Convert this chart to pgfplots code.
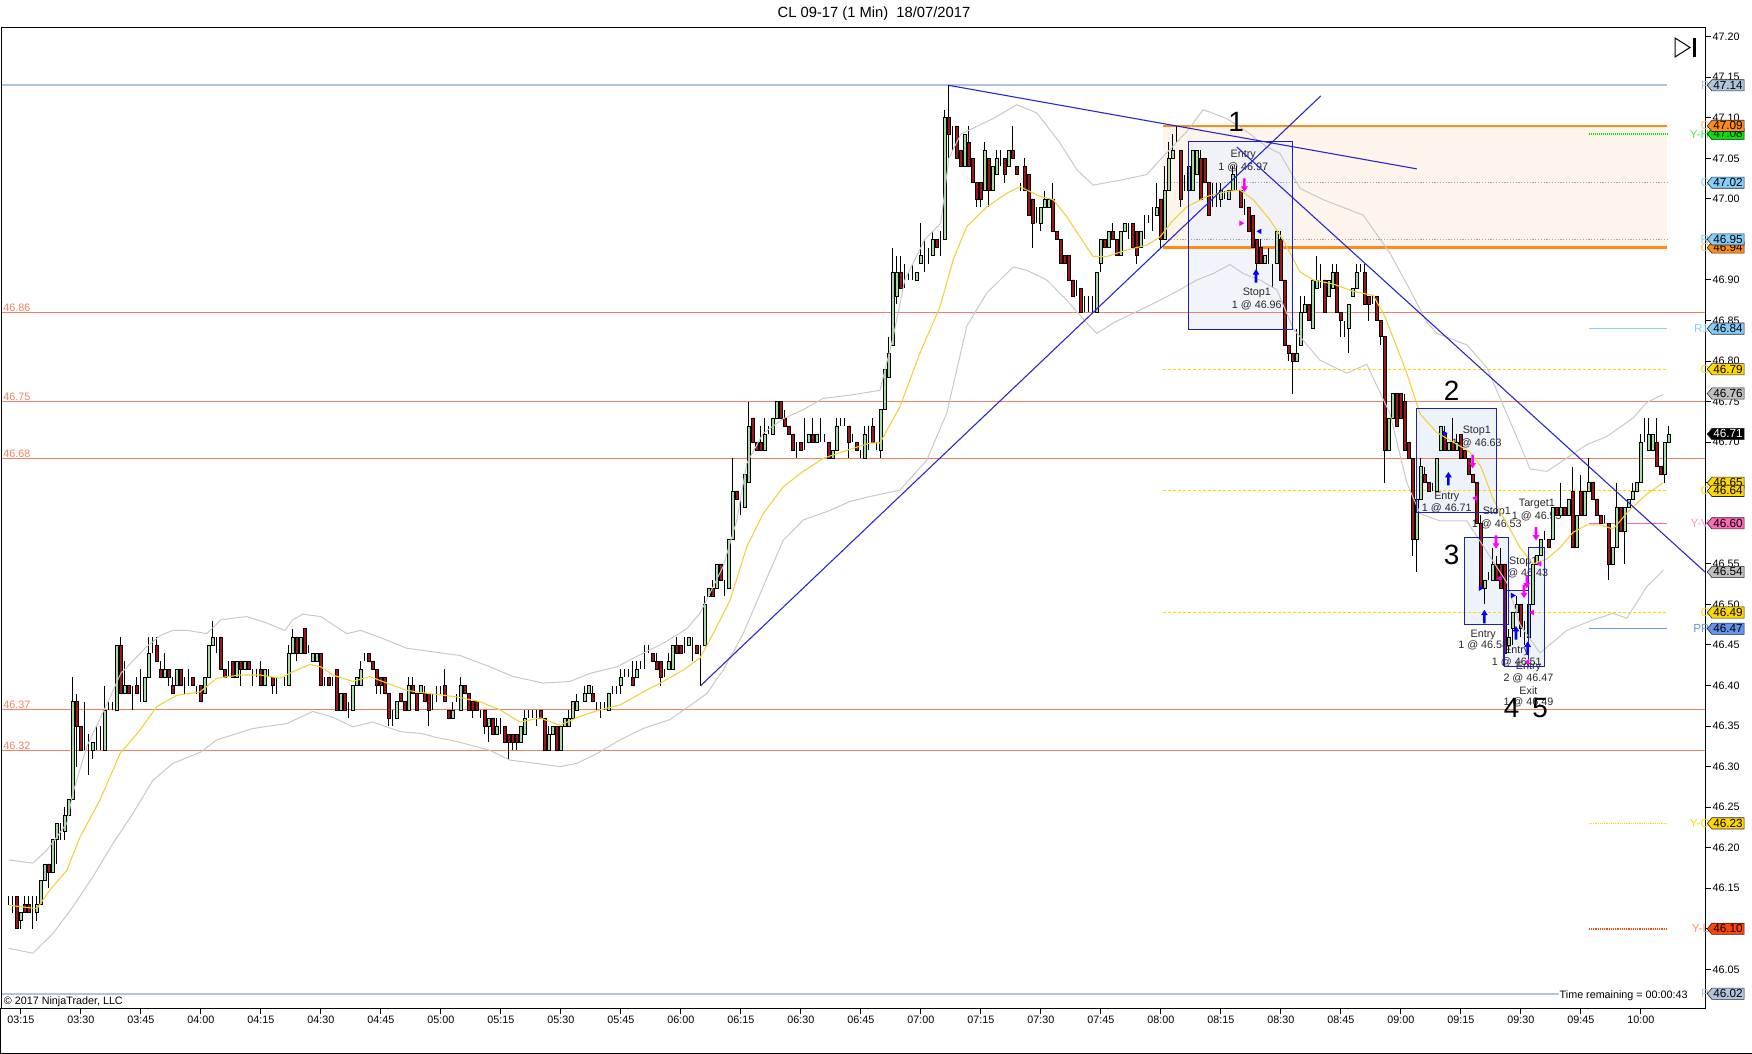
\documentclass[border=0pt]{standalone}
\usepackage{fontspec}
\setmainfont{Liberation Sans}
\usepackage{pgfplots}
\pgfplotsset{compat=1.18}
\usepackage{pgfplotstable}
\usetikzlibrary{shapes.symbols}

\definecolor{upc}{RGB}{165,218,160}
\definecolor{dnc}{RGB}{160,22,22}
\definecolor{bbc}{RGB}{200,200,200}
\definecolor{emac}{RGB}{240,210,60}
\definecolor{coral}{RGB}{240,128,100}
\definecolor{orng}{RGB}{255,140,20}
\definecolor{lsb}{RGB}{176,196,222}
\definecolor{lskb}{RGB}{135,206,250}
\definecolor{gold}{RGB}{255,215,0}
\definecolor{trend}{RGB}{40,40,210}
\definecolor{boxb}{RGB}{30,30,190}
\definecolor{boxf}{RGB}{238,242,250}
\definecolor{beige}{RGB}{253,245,236}
\definecolor{mag}{RGB}{255,0,255}
\definecolor{blu}{RGB}{0,0,255}
\definecolor{hotpink}{RGB}{255,105,180}
\definecolor{cornfl}{RGB}{100,149,237}
\definecolor{ored}{RGB}{255,69,0}
\definecolor{limec}{RGB}{0,230,0}
\definecolor{txt}{RGB}{40,40,40}
\definecolor{tagg}{RGB}{192,192,192}

\newcommand\tf{\fontsize{5.4}{6}\selectfont}
\newcommand\tagf{\fontsize{5.9}{6.2}\selectfont}

\pgfdeclareplotmark{uparr}{%
  \pgfpathmoveto{\pgfqpoint{0bp}{3.35bp}}%
  \pgfpathlineto{\pgfqpoint{1.7bp}{0.7bp}}%
  \pgfpathlineto{\pgfqpoint{0.65bp}{0.7bp}}%
  \pgfpathlineto{\pgfqpoint{0.65bp}{-3.35bp}}%
  \pgfpathlineto{\pgfqpoint{-0.65bp}{-3.35bp}}%
  \pgfpathlineto{\pgfqpoint{-0.65bp}{0.7bp}}%
  \pgfpathlineto{\pgfqpoint{-1.7bp}{0.7bp}}%
  \pgfpathclose\pgfusepathqfill}
\pgfdeclareplotmark{dnarr}{%
  \pgfpathmoveto{\pgfqpoint{0bp}{-3.35bp}}%
  \pgfpathlineto{\pgfqpoint{1.7bp}{-0.7bp}}%
  \pgfpathlineto{\pgfqpoint{0.65bp}{-0.7bp}}%
  \pgfpathlineto{\pgfqpoint{0.65bp}{3.35bp}}%
  \pgfpathlineto{\pgfqpoint{-0.65bp}{3.35bp}}%
  \pgfpathlineto{\pgfqpoint{-0.65bp}{-0.7bp}}%
  \pgfpathlineto{\pgfqpoint{-1.7bp}{-0.7bp}}%
  \pgfpathclose\pgfusepathqfill}
\pgfdeclareplotmark{tril}{%
  \pgfpathmoveto{\pgfqpoint{-1.3bp}{0bp}}%
  \pgfpathlineto{\pgfqpoint{1.1bp}{1.4bp}}%
  \pgfpathlineto{\pgfqpoint{1.1bp}{-1.4bp}}%
  \pgfpathclose\pgfusepathqfill}
\pgfdeclareplotmark{trir}{%
  \pgfpathmoveto{\pgfqpoint{1.3bp}{0bp}}%
  \pgfpathlineto{\pgfqpoint{-1.1bp}{1.4bp}}%
  \pgfpathlineto{\pgfqpoint{-1.1bp}{-1.4bp}}%
  \pgfpathclose\pgfusepathqfill}

\pgfplotsset{geom/.style={at={(0.5bp,23bp)}, anchor=south west, width=852bp, height=490bp,
  scale only axis, xmin=-4.95, xmax=421.05, ymin=46.0024, ymax=47.2107, enlargelimits=false}}

\pgfplotstableread{
m O H L C
-3 46.13 46.14 46.13 46.13
-2 46.13 46.14 46.12 46.13
-1 46.14 46.14 46.10 46.10
0 46.11 46.12 46.10 46.12
1 46.13 46.14 46.12 46.12
2 46.13 46.14 46.12 46.12
3 46.12 46.14 46.10 46.12
4 46.12 46.14 46.11 46.13
5 46.13 46.16 46.13 46.16
6 46.16 46.18 46.16 46.18
7 46.18 46.18 46.15 46.17
8 46.17 46.21 46.17 46.21
9 46.21 46.23 46.18 46.23
10 46.22 46.23 46.21 46.22
11 46.22 46.25 46.21 46.24
12 46.24 46.26 46.24 46.26
13 46.26 46.41 46.26 46.38
14 46.38 46.39 46.30 46.35
15 46.35 46.35 46.32 46.32
16 46.33 46.38 46.32 46.33
17 46.32 46.34 46.29 46.32
18 46.32 46.33 46.31 46.33
19 46.33 46.35 46.32 46.33
20 46.33 46.35 46.32 46.33
21 46.32 46.40 46.32 46.37
22 46.37 46.38 46.37 46.37
23 46.37 46.38 46.37 46.37
24 46.37 46.45 46.37 46.45
25 46.45 46.46 46.39 46.39
26 46.39 46.43 46.39 46.40
27 46.40 46.40 46.39 46.39
28 46.39 46.40 46.37 46.39
29 46.40 46.41 46.39 46.39
30 46.39 46.42 46.38 46.39
31 46.38 46.41 46.38 46.41
32 46.41 46.46 46.41 46.44
33 46.44 46.46 46.44 46.44
34 46.45 46.46 46.43 46.43
35 46.42 46.43 46.41 46.41
36 46.41 46.44 46.41 46.42
37 46.42 46.42 46.40 46.41
38 46.40 46.41 46.39 46.39
39 46.40 46.42 46.40 46.42
40 46.42 46.42 46.40 46.40
41 46.40 46.41 46.39 46.40
42 46.40 46.42 46.40 46.40
43 46.41 46.41 46.40 46.40
44 46.40 46.40 46.39 46.40
45 46.40 46.40 46.38 46.38
46 46.39 46.41 46.39 46.41
47 46.41 46.45 46.41 46.45
48 46.45 46.48 46.45 46.46
49 46.45 46.46 46.44 46.45
50 46.46 46.46 46.42 46.42
51 46.42 46.42 46.41 46.41
52 46.42 46.43 46.41 46.42
53 46.43 46.43 46.41 46.41
54 46.41 46.43 46.41 46.43
55 46.43 46.43 46.40 46.42
56 46.42 46.43 46.42 46.43
57 46.43 46.43 46.42 46.42
58 46.41 46.42 46.40 46.41
59 46.41 46.42 46.41 46.41
60 46.42 46.43 46.40 46.40
61 46.40 46.42 46.40 46.42
62 46.41 46.42 46.41 46.41
63 46.41 46.41 46.39 46.40
64 46.40 46.41 46.39 46.40
65 46.40 46.40 46.40 46.40
66 46.40 46.41 46.40 46.40
67 46.40 46.45 46.40 46.44
68 46.44 46.47 46.44 46.46
69 46.46 46.46 46.43 46.44
70 46.44 46.46 46.44 46.46
71 46.47 46.47 46.44 46.44
72 46.44 46.45 46.44 46.44
73 46.43 46.44 46.43 46.44
74 46.43 46.44 46.43 46.44
75 46.44 46.44 46.40 46.40
76 46.41 46.41 46.40 46.41
77 46.41 46.41 46.40 46.40
78 46.41 46.41 46.40 46.41
79 46.42 46.42 46.37 46.37
80 46.37 46.39 46.37 46.39
81 46.39 46.39 46.37 46.37
82 46.37 46.38 46.36 46.37
83 46.37 46.40 46.37 46.40
84 46.40 46.41 46.40 46.41
85 46.40 46.43 46.40 46.42
86 46.43 46.44 46.43 46.43
87 46.44 46.44 46.43 46.43
88 46.43 46.43 46.42 46.42
89 46.42 46.42 46.39 46.40
90 46.41 46.41 46.39 46.40
91 46.41 46.41 46.39 46.39
92 46.39 46.39 46.35 46.36
93 46.36 46.37 46.35 46.36
94 46.36 46.38 46.36 46.38
95 46.39 46.39 46.38 46.38
96 46.38 46.38 46.37 46.37
97 46.37 46.41 46.37 46.40
98 46.40 46.41 46.39 46.39
99 46.39 46.39 46.37 46.37
100 46.39 46.40 46.39 46.40
101 46.39 46.40 46.38 46.38
102 46.39 46.39 46.35 46.37
103 46.38 46.39 46.37 46.38
104 46.39 46.40 46.38 46.39
105 46.39 46.40 46.39 46.39
106 46.40 46.42 46.38 46.38
107 46.37 46.37 46.36 46.36
108 46.36 46.38 46.36 46.37
109 46.38 46.39 46.38 46.38
110 46.37 46.41 46.37 46.40
111 46.40 46.40 46.39 46.39
112 46.39 46.39 46.37 46.37
113 46.38 46.38 46.36 46.37
114 46.38 46.38 46.37 46.37
115 46.37 46.37 46.36 46.37
116 46.37 46.37 46.34 46.35
117 46.35 46.36 46.33 46.36
118 46.36 46.36 46.34 46.34
119 46.34 46.36 46.34 46.35
120 46.35 46.36 46.34 46.35
121 46.35 46.35 46.33 46.33
122 46.34 46.34 46.31 46.33
123 46.34 46.34 46.32 46.33
124 46.34 46.34 46.32 46.33
125 46.33 46.35 46.33 46.35
126 46.34 46.37 46.34 46.36
127 46.36 46.37 46.36 46.36
128 46.36 46.37 46.36 46.36
129 46.36 46.37 46.35 46.36
130 46.37 46.37 46.36 46.36
131 46.36 46.36 46.32 46.32
132 46.32 46.35 46.32 46.34
133 46.34 46.35 46.34 46.35
134 46.35 46.35 46.32 46.32
135 46.32 46.35 46.32 46.35
136 46.35 46.36 46.35 46.36
137 46.35 46.37 46.35 46.36
138 46.36 46.38 46.36 46.38
139 46.37 46.39 46.37 46.38
140 46.38 46.38 46.38 46.38
141 46.38 46.40 46.38 46.39
142 46.39 46.40 46.39 46.40
143 46.39 46.40 46.38 46.38
144 46.38 46.38 46.37 46.38
145 46.37 46.38 46.36 46.37
146 46.38 46.38 46.37 46.38
147 46.37 46.39 46.37 46.39
148 46.39 46.40 46.39 46.39
149 46.39 46.40 46.39 46.39
150 46.40 46.42 46.39 46.41
151 46.41 46.42 46.41 46.41
152 46.41 46.42 46.41 46.41
153 46.41 46.43 46.40 46.40
154 46.41 46.43 46.41 46.42
155 46.42 46.43 46.42 46.42
156 46.44 46.45 46.42 46.44
157 46.44 46.45 46.44 46.44
158 46.44 46.44 46.43 46.43
159 46.43 46.44 46.42 46.42
160 46.43 46.43 46.40 46.41
161 46.41 46.42 46.41 46.41
162 46.42 46.44 46.42 46.43
163 46.42 46.45 46.42 46.45
164 46.45 46.46 46.44 46.44
165 46.45 46.45 46.44 46.44
166 46.45 46.46 46.44 46.45
167 46.45 46.46 46.45 46.46
168 46.45 46.46 46.43 46.45
169 46.45 46.45 46.44 46.44
170 46.44 46.45 46.40 46.44
171 46.45 46.51 46.45 46.50
172 46.51 46.52 46.51 46.52
173 46.52 46.53 46.51 46.51
174 46.52 46.55 46.52 46.55
175 46.55 46.55 46.53 46.53
176 46.53 46.53 46.51 46.53
177 46.52 46.58 46.52 46.58
178 46.58 46.68 46.58 46.64
179 46.64 46.64 46.63 46.63
180 46.62 46.63 46.61 46.62
181 46.62 46.66 46.62 46.66
182 46.65 46.75 46.65 46.72
183 46.73 46.73 46.70 46.70
184 46.70 46.70 46.69 46.69
185 46.70 46.72 46.69 46.69
186 46.69 46.73 46.69 46.71
187 46.71 46.72 46.71 46.71
188 46.71 46.73 46.71 46.73
189 46.73 46.75 46.73 46.75
190 46.75 46.75 46.73 46.73
191 46.73 46.74 46.72 46.72
192 46.72 46.72 46.71 46.71
193 46.71 46.71 46.69 46.69
194 46.69 46.70 46.68 46.69
195 46.70 46.70 46.69 46.69
196 46.70 46.73 46.69 46.70
197 46.70 46.71 46.70 46.71
198 46.71 46.73 46.70 46.70
199 46.70 46.71 46.70 46.71
200 46.71 46.73 46.70 46.71
201 46.70 46.71 46.70 46.70
202 46.70 46.70 46.68 46.68
203 46.68 46.69 46.68 46.69
204 46.69 46.73 46.69 46.72
205 46.72 46.73 46.72 46.72
206 46.72 46.73 46.72 46.72
207 46.72 46.72 46.68 46.70
208 46.70 46.71 46.70 46.70
209 46.70 46.70 46.69 46.69
210 46.69 46.69 46.68 46.69
211 46.68 46.72 46.68 46.71
212 46.70 46.72 46.69 46.70
213 46.72 46.73 46.70 46.70
214 46.70 46.70 46.69 46.70
215 46.69 46.74 46.68 46.74
216 46.74 46.79 46.74 46.79
217 46.78 46.83 46.78 46.81
218 46.82 46.94 46.82 46.91
219 46.88 46.93 46.87 46.91
220 46.91 46.93 46.89 46.89
221 46.90 46.92 46.89 46.90
222 46.90 46.91 46.90 46.90
223 46.90 46.92 46.90 46.90
224 46.90 46.91 46.90 46.91
225 46.92 46.97 46.92 46.93
226 46.92 46.95 46.91 46.92
227 46.93 46.94 46.92 46.93
228 46.93 46.96 46.93 46.95
229 46.95 46.95 46.94 46.94
230 46.94 46.96 46.93 46.94
231 46.95 47.11 46.95 47.10
232 47.10 47.14 47.05 47.08
233 47.07 47.09 47.06 47.07
234 47.09 47.09 47.05 47.05
235 47.06 47.06 47.04 47.04
236 47.04 47.08 47.04 47.08
237 47.07 47.09 47.04 47.04
238 47.05 47.05 47.02 47.02
239 47.02 47.02 46.99 47.00
240 47.02 47.02 46.99 47.00
241 47.01 47.07 47.01 47.06
242 47.05 47.05 46.99 47.01
243 47.01 47.04 47.01 47.04
244 47.03 47.06 47.03 47.05
245 47.05 47.06 47.04 47.05
246 47.05 47.05 47.02 47.03
247 47.04 47.06 47.04 47.06
248 47.06 47.09 47.05 47.05
249 47.04 47.04 47.03 47.03
250 47.02 47.02 47.01 47.02
251 47.04 47.05 47.01 47.01
252 47.03 47.03 46.98 46.98
253 47.00 47.00 46.94 46.97
254 46.98 46.99 46.97 46.98
255 46.97 46.99 46.96 46.99
256 46.99 47.01 46.99 47.00
257 46.99 47.00 46.99 47.00
258 47.00 47.02 46.96 46.96
259 46.96 46.96 46.95 46.95
260 46.95 46.95 46.92 46.92
261 46.93 46.93 46.92 46.92
262 46.93 46.93 46.90 46.90
263 46.90 46.90 46.88 46.88
264 46.89 46.90 46.88 46.89
265 46.89 46.89 46.86 46.86
266 46.87 46.88 46.86 46.87
267 46.86 46.88 46.86 46.86
268 46.86 46.88 46.86 46.86
269 46.86 46.91 46.86 46.91
270 46.92 46.95 46.91 46.95
271 46.95 46.95 46.94 46.94
272 46.94 46.96 46.94 46.96
273 46.96 46.97 46.95 46.95
274 46.95 46.95 46.93 46.93
275 46.93 46.96 46.93 46.96
276 46.96 46.97 46.96 46.97
277 46.96 46.97 46.95 46.96
278 46.97 46.97 46.94 46.94
279 46.96 46.96 46.92 46.93
280 46.94 46.96 46.94 46.96
281 46.97 46.98 46.95 46.97
282 46.97 46.98 46.97 46.97
283 46.97 46.99 46.96 46.97
284 46.98 47.02 46.98 46.99
285 47.00 47.00 46.94 46.95
286 46.95 47.04 46.95 47.01
287 47.01 47.07 47.01 47.05
288 47.05 47.08 47.05 47.06
289 47.07 47.09 47.07 47.07
290 47.06 47.06 46.99 47.00
291 47.02 47.03 47.01 47.02
292 47.01 47.05 47.01 47.04
293 47.01 47.06 47.01 47.06
294 47.03 47.06 47.03 47.06
295 47.05 47.06 47.00 47.00
296 47.05 47.05 47.02 47.02
297 47.02 47.02 46.98 46.98
298 47.00 47.02 46.99 47.00
299 47.01 47.02 46.99 47.01
300 47.00 47.02 46.99 47.01
301 47.00 47.01 47.00 47.00
302 47.00 47.01 47.00 47.01
303 47.01 47.04 47.01 47.03
304 47.03 47.04 47.01 47.03
305 47.01 47.01 46.99 46.99
306 46.99 47.00 46.98 46.99
307 46.99 46.99 46.96 46.96
308 46.98 46.98 46.94 46.94
309 46.95 46.95 46.91 46.92
310 46.94 46.95 46.92 46.92
311 46.92 46.93 46.92 46.93
312 46.93 46.94 46.92 46.93
313 46.92 46.92 46.89 46.92
314 46.92 46.96 46.92 46.96
315 46.95 46.96 46.90 46.90
316 46.90 46.90 46.82 46.82
317 46.82 46.82 46.80 46.81
318 46.81 46.81 46.76 46.80
319 46.80 46.84 46.80 46.81
320 46.82 46.88 46.82 46.86
321 46.86 46.88 46.86 46.87
322 46.87 46.87 46.85 46.85
323 46.84 46.90 46.84 46.90
324 46.89 46.93 46.89 46.90
325 46.90 46.92 46.89 46.90
326 46.90 46.90 46.86 46.86
327 46.88 46.90 46.88 46.90
328 46.89 46.92 46.89 46.91
329 46.91 46.92 46.86 46.86
330 46.86 46.86 46.83 46.85
331 46.84 46.85 46.83 46.84
332 46.84 46.87 46.81 46.87
333 46.88 46.89 46.88 46.89
334 46.89 46.92 46.89 46.91
335 46.91 46.92 46.91 46.91
336 46.91 46.92 46.87 46.87
337 46.88 46.88 46.85 46.87
338 46.88 46.88 46.87 46.88
339 46.88 46.88 46.85 46.85
340 46.85 46.85 46.82 46.83
341 46.83 46.83 46.65 46.69
342 46.69 46.73 46.69 46.73
343 46.73 46.76 46.73 46.76
344 46.76 46.76 46.72 46.72
345 46.76 46.76 46.73 46.73
346 46.75 46.76 46.69 46.69
347 46.70 46.70 46.68 46.68
348 46.68 46.68 46.56 46.58
349 46.58 46.63 46.54 46.63
350 46.63 46.68 46.63 46.67
351 46.66 46.67 46.65 46.65
352 46.65 46.65 46.64 46.64
353 46.64 46.65 46.64 46.64
354 46.64 46.68 46.64 46.68
355 46.69 46.72 46.69 46.72
356 46.71 46.72 46.69 46.69
357 46.69 46.70 46.69 46.70
358 46.70 46.73 46.69 46.69
359 46.69 46.71 46.69 46.70
360 46.71 46.71 46.68 46.68
361 46.69 46.69 46.68 46.68
362 46.68 46.68 46.66 46.66
363 46.66 46.66 46.65 46.65
364 46.65 46.65 46.60 46.60
365 46.60 46.61 46.52 46.52
366 46.52 46.53 46.50 46.53
367 46.53 46.54 46.53 46.53
368 46.53 46.57 46.53 46.55
369 46.55 46.56 46.53 46.53
370 46.55 46.57 46.52 46.52
371 46.55 46.55 46.44 46.44
372 46.45 46.47 46.44 46.46
373 46.47 46.49 46.45 46.49
374 46.49 46.51 46.49 46.50
375 46.50 46.50 46.46 46.47
376 46.48 46.48 46.45 46.48
377 46.46 46.50 46.45 46.50
378 46.50 46.55 46.50 46.55
379 46.55 46.56 46.55 46.56
380 46.56 46.58 46.56 46.58
381 46.58 46.59 46.58 46.58
382 46.58 46.58 46.57 46.57
383 46.58 46.62 46.58 46.62
384 46.62 46.62 46.61 46.61
385 46.61 46.65 46.61 46.62
386 46.62 46.62 46.61 46.61
387 46.61 46.63 46.61 46.63
388 46.64 46.67 46.57 46.57
389 46.57 46.61 46.57 46.61
390 46.64 46.66 46.61 46.61
391 46.61 46.64 46.61 46.64
392 46.64 46.68 46.64 46.65
393 46.65 46.65 46.63 46.63
394 46.63 46.63 46.61 46.61
395 46.61 46.61 46.60 46.60
396 46.60 46.61 46.60 46.60
397 46.60 46.60 46.53 46.55
398 46.55 46.57 46.55 46.57
399 46.57 46.65 46.57 46.62
400 46.62 46.62 46.59 46.59
401 46.59 46.62 46.55 46.62
402 46.62 46.63 46.62 46.63
403 46.63 46.65 46.63 46.64
404 46.64 46.65 46.64 46.65
405 46.65 46.71 46.65 46.70
406 46.70 46.73 46.70 46.70
407 46.69 46.73 46.69 46.71
408 46.69 46.71 46.69 46.71
409 46.70 46.73 46.67 46.67
410 46.67 46.67 46.66 46.66
411 46.66 46.70 46.65 46.70
412 46.70 46.72 46.70 46.71
}\candles

\begin{document}
\begin{tikzpicture}
\path[use as bounding box] (0,0) rectangle (876bp,527bp);

% ---------------- background layer ----------------
\begin{axis}[geom, hide axis]
\addplot[fill=beige, draw=none] coordinates {(285.5,46.94) (411.6,46.94) (411.6,47.09) (285.5,47.09)};
% trade boxes fill
\addplot[fill=boxf, draw=none, fill opacity=0.8] coordinates {(291.9,46.839) (317.9,46.839) (317.9,47.071) (291.9,47.071)};
\addplot[fill=boxf, draw=none] coordinates {(349,46.613) (369,46.613) (369,46.741) (349,46.741)};
\addplot[fill=boxf, draw=none] coordinates {(360.9,46.475) (371.9,46.475) (371.9,46.582) (360.9,46.582)};
\addplot[fill=boxf, draw=none] coordinates {(370.8,46.424) (376.9,46.424) (376.9,46.517) (370.8,46.517)};
\addplot[fill=boxf, draw=none] coordinates {(376.9,46.424) (380.9,46.424) (380.9,46.570) (376.9,46.570)};
% horizontal levels
\addplot[lsb, line width=1.1bp] coordinates {(-4.95,47.14) (411.6,47.14)};
\addplot[lsb, line width=1.1bp] coordinates {(-4.95,46.02) (411.6,46.02)};
\addplot[orng, line width=1.3bp] coordinates {(285.5,47.09) (411.6,47.09)};
\addplot[orng, line width=1.3bp] coordinates {(285.5,46.94) (411.6,46.94)};
\addplot[limec, line width=0.7bp, dash pattern=on 0.5bp off 0.5bp] coordinates {(392,47.08) (411.6,47.08)};
\addplot[black!35, line width=0.4bp, dash pattern=on 0.6bp off 0.8bp] coordinates {(285.5,47.02) (411.6,47.02)};
\addplot[black!35, line width=0.4bp, dash pattern=on 0.6bp off 0.8bp] coordinates {(285.5,46.95) (411.6,46.95)};
\addplot[lskb, line width=0.5bp] coordinates {(392,46.84) (411.6,46.84)};
\addplot[gold, line width=0.5bp, dash pattern=on 1.5bp off 1bp] coordinates {(285.5,46.79) (411.6,46.79)};
\addplot[gold, line width=0.5bp, dash pattern=on 1.5bp off 1bp] coordinates {(285.5,46.64) (411.6,46.64)};
\addplot[gold, line width=0.5bp, dash pattern=on 1.5bp off 1bp] coordinates {(285.5,46.49) (411.6,46.49)};
\addplot[hotpink, line width=0.5bp] coordinates {(392,46.60) (411.6,46.60)};
\addplot[cornfl, line width=0.5bp] coordinates {(392,46.47) (411.6,46.47)};
\addplot[gold, line width=0.8bp, dash pattern=on 0.6bp off 0.5bp] coordinates {(392,46.23) (411.6,46.23)};
\addplot[ored, line width=0.8bp, dash pattern=on 0.6bp off 0.5bp] coordinates {(392,46.10) (411.6,46.10)};
\addplot[coral, line width=0.5bp] coordinates {(-4.95,46.86) (421.05,46.86)};
\addplot[coral, line width=0.5bp] coordinates {(-4.95,46.75) (421.05,46.75)};
\addplot[coral, line width=0.5bp] coordinates {(-4.95,46.68) (421.05,46.68)};
\addplot[coral, line width=0.5bp] coordinates {(-4.95,46.37) (421.05,46.37)};
\addplot[coral, line width=0.5bp] coordinates {(-4.95,46.32) (421.05,46.32)};
% annotation texts
\begin{scope}[every node/.style={font=\tf, text=txt, inner sep=0pt, align=center}]
\node at (axis cs:305.6,47.054) {Entry};
\node at (axis cs:305.6,47.039) {1 @ 46.97};
\node at (axis cs:309.0,46.884) {Stop1};
\node at (axis cs:309.0,46.869) {1 @ 46.96};
\node at (axis cs:364.0,46.714) {Stop1};
\node at (axis cs:364.0,46.699) {1 @ 46.63};
\node at (axis cs:356.5,46.633) {Entry};
\node at (axis cs:356.5,46.618) {1 @ 46.71};
\node at (axis cs:369.0,46.614) {Stop1};
\node at (axis cs:369.0,46.599) {1 @ 46.53};
\node at (axis cs:379.0,46.624) {Target1};
\node at (axis cs:379.0,46.609) {1 @ 46.55};
\node at (axis cs:375.6,46.553) {Stop1};
\node at (axis cs:375.6,46.538) {1 @ 46.43};
\node at (axis cs:365.6,46.463) {Entry};
\node at (axis cs:365.6,46.449) {1 @ 46.58};
\node at (axis cs:374.0,46.443) {Entry};
\node at (axis cs:374.0,46.429) {1 @ 46.51};
\node at (axis cs:376.9,46.423) {Entry};
\node at (axis cs:376.9,46.409) {2 @ 46.47};
\node at (axis cs:376.9,46.394) {Exit};
\node at (axis cs:376.9,46.379) {1 @ 46.49};
\end{scope}
% wicks
\addplot[black, line width=0.5bp, quiver={u=0, v=\thisrow{H}-\thisrow{L}}] table[x=m, y=L] {\candles};
\end{axis}

% ---------------- candle bodies ----------------
\begin{axis}[geom, hide axis, ybar stacked, bar width=1.3bp]
\addplot[draw=none, fill=none] table[x=m, y expr={min(\thisrow{O},\thisrow{C})}] {\candles};
\addplot[draw=black, line width=0.35bp, fill=upc] table[x=m, y expr={max(\thisrow{C}-\thisrow{O},0)}] {\candles};
\addplot[draw=black, line width=0.35bp, fill=dnc] table[x=m, y expr={max(\thisrow{O}-\thisrow{C},0)}] {\candles};
\end{axis}

% ---------------- foreground ----------------
\begin{axis}[geom, clip=false,
  axis line style={line width=0.5bp, black},
  xtick={0,15,30,45,60,75,90,105,120,135,150,165,180,195,210,225,240,255,270,285,300,315,330,345,360,375,390,405},
  xticklabels={03:15,03:30,03:45,04:00,04:15,04:30,04:45,05:00,05:15,05:30,05:45,06:00,06:15,06:30,06:45,07:00,07:15,07:30,07:45,08:00,08:15,08:30,08:45,09:00,09:15,09:30,09:45,10:00},
  ytick={46.05,46.10,46.15,46.20,46.25,46.30,46.35,46.40,46.45,46.50,46.55,46.60,46.65,46.70,46.75,46.80,46.85,46.90,46.95,47.00,47.05,47.10,47.15,47.20},
  xtick pos=left, ytick pos=right, yticklabel pos=right,
  tick align=outside, major tick length=3bp, tick style={black, line width=0.5bp},
  ticklabel style={font=\tf},
  /pgf/number format/assume math mode=true,
  yticklabel style={/pgf/number format/fixed, /pgf/number format/fixed zerofill, /pgf/number format/precision=2, anchor=west, inner sep=0.6bp},
  xticklabel style={inner sep=0.6bp},
]
% Bollinger upper
\addplot[bbc, line width=0.5bp] coordinates {(-3,46.185) (3,46.181) (6.5,46.197) (11.5,46.230) (13,46.267) (16.5,46.325) (22,46.382) (25,46.415) (31.5,46.448) (35,46.462) (38,46.468) (41.5,46.468) (46.5,46.464) (50,46.481) (53,46.483) (56.5,46.485) (61.5,46.477) (66,46.468) (68,46.481) (70.5,46.488) (75,46.485) (81.5,46.464) (85,46.468) (91.5,46.456) (96.5,46.446) (102.3,46.442) (109.8,46.437) (117.3,46.423) (123.1,46.411) (130.6,46.403) (137.3,46.405) (142.3,46.415) (149,46.423) (155.6,46.440) (160.6,46.452) (166.5,46.470) (169.8,46.489) (172.3,46.514) (175.6,46.547) (179,46.604) (181.5,46.674) (185.6,46.711) (190.6,46.729) (195.6,46.740) (200.6,46.754) (207.3,46.758) (212.3,46.762) (214.8,46.764) (218.1,46.830) (221,46.900) (226,46.950) (230,46.970) (232,47.050) (235,47.080) (243.1,47.099) (249,47.116) (254,47.106) (259.8,47.069) (264,47.036) (268.1,47.017) (274.8,47.023) (281.5,47.030) (284.8,47.048) (291.5,47.083) (295.6,47.110) (301.5,47.099) (306.5,47.083) (311.5,47.064) (314.8,47.056) (319.8,47.013) (325.6,46.999) (335.6,46.980) (342.3,46.933) (346.5,46.895) (351.5,46.848) (354,46.834) (361.5,46.820) (366.5,46.792) (371.5,46.735) (374.8,46.697) (377.3,46.667) (381.5,46.664) (387.3,46.683) (391.5,46.697) (396.5,46.707) (403.1,46.730) (406.5,46.749) (410.6,46.759)};
% Bollinger lower
\addplot[bbc, line width=0.5bp] coordinates {(-3,46.076) (3,46.070) (8,46.094) (13,46.127) (18,46.164) (23,46.205) (28,46.242) (33,46.283) (38,46.304) (45,46.318) (49,46.333) (58,46.347) (66.5,46.353) (73,46.368) (78,46.361) (83,46.349) (88,46.355) (95,46.343) (100,46.341) (104.8,46.335) (109,46.331) (117.3,46.320) (122.3,46.308) (127.3,46.305) (134.8,46.300) (139,46.304) (144,46.316) (149.8,46.333) (155.6,46.347) (162.3,46.358) (168.1,46.378) (171.5,46.390) (175.6,46.419) (180.6,46.464) (185.6,46.522) (190.6,46.579) (195.6,46.604) (202.3,46.616) (207.3,46.627) (212.3,46.633) (219.8,46.641) (226.5,46.678) (231.5,46.736) (236.5,46.843) (241.5,46.884) (248.1,46.916) (251.5,46.912) (256.5,46.900) (261.5,46.875) (266.5,46.847) (269,46.834) (273.1,46.847) (279.8,46.863) (284.8,46.875) (289.8,46.888) (294,46.900) (298.1,46.908) (302.3,46.919) (305.6,46.908) (309.8,46.900) (314,46.888) (318.1,46.840) (324.8,46.801) (331.5,46.785) (336.5,46.796) (342.3,46.735) (346.5,46.650) (349.8,46.612) (354.8,46.603) (361.5,46.603) (366.5,46.565) (371.5,46.527) (374.8,46.475) (379.8,46.440) (386.5,46.468) (393.1,46.481) (398.1,46.489) (401.5,46.483) (406.5,46.522) (410.6,46.542)};
% EMA
\addplot[emac, line width=0.55bp] coordinates {(-3,46.129) (4,46.125) (7.3,46.148) (11.5,46.172) (14.8,46.213) (19.8,46.259) (24.8,46.316) (29.8,46.345) (34,46.374) (39,46.388) (44.8,46.392) (49,46.409) (54.8,46.413) (59.8,46.413) (64.8,46.409) (68,46.417) (72.3,46.426) (75,46.423) (78,46.413) (83,46.405) (87.3,46.411) (91.5,46.403) (96.5,46.394) (102.3,46.390) (109,46.386) (114.8,46.380) (119.8,46.370) (124.8,46.355) (129.8,46.360) (134.8,46.351) (139.8,46.362) (144.8,46.370) (149.8,46.376) (155.6,46.392) (160.6,46.405) (165.6,46.419) (169.8,46.434) (173.1,46.464) (177.3,46.505) (181.5,46.571) (185.6,46.612) (190.6,46.645) (195.6,46.664) (200.6,46.680) (206.5,46.690) (212.3,46.699) (214.8,46.699) (219.8,46.744) (224.8,46.810) (229.8,46.867) (233.1,46.925) (236.5,46.966) (241.5,46.990) (246.5,47.007) (249.8,47.015) (254.8,47.003) (258.1,46.999) (261.5,46.978) (264.8,46.953) (268.1,46.929) (271.5,46.929) (276.5,46.937) (281.5,46.943) (284.8,46.953) (288.1,46.974) (291.5,46.990) (296.5,47.003) (301.5,47.009) (304.8,47.011) (308.1,46.999) (312.3,46.974) (315.6,46.949) (319.8,46.910) (323.1,46.900) (328.1,46.895) (333.1,46.886) (338.1,46.881) (341,46.855) (343,46.830) (346.5,46.785) (349.8,46.735) (354,46.712) (358.1,46.700) (362.3,46.688) (365,46.670) (368.1,46.630) (371.5,46.600) (374.8,46.570) (378.1,46.550) (381.5,46.556) (384.8,46.570) (388.1,46.589) (391.5,46.598) (394.8,46.598) (398.1,46.593) (402.3,46.617) (406.5,46.636) (410.6,46.650)};
% trend lines
\addplot[trend, line width=0.55bp] coordinates {(232,47.14) (349,47.037)};
\addplot[trend, line width=0.55bp] coordinates {(170,46.40) (325,47.127)};
\addplot[trend, line width=0.55bp] coordinates {(304,47.064) (421.05,46.540)};
% trade boxes outline
\addplot[boxb, line width=0.55bp] coordinates {(291.9,46.839) (317.9,46.839) (317.9,47.071) (291.9,47.071) (291.9,46.839)};
\addplot[boxb, line width=0.55bp] coordinates {(349,46.613) (369,46.613) (369,46.741) (349,46.741) (349,46.613)};
\addplot[boxb, line width=0.55bp] coordinates {(360.9,46.475) (371.9,46.475) (371.9,46.582) (360.9,46.582) (360.9,46.475)};
\addplot[boxb, line width=0.55bp] coordinates {(370.8,46.424) (376.9,46.424) (376.9,46.517) (370.8,46.517) (370.8,46.424)};
\addplot[boxb, line width=0.55bp] coordinates {(376.9,46.424) (380.9,46.424) (380.9,46.570) (376.9,46.570) (376.9,46.424)};
% trade markers
\addplot[only marks, mark=uparr, blu, fill=blu] coordinates {(308.8,46.905) (356.9,46.655) (365.9,46.485) (373.8,46.465) (376.7,46.446)};
\addplot[only marks, mark=dnarr, mag, fill=mag] coordinates {(305.9,47.017) (362.97,46.676) (368.8,46.577) (375.8,46.516) (376.5,46.528) (378.8,46.587)};
\addplot[only marks, mark=tril, mag, fill=mag] coordinates {(363.5,46.631) (369.6,46.532) (377.7,46.490) (379.6,46.550) (376.5,46.429)};
\addplot[only marks, mark=trir, mag, fill=mag] coordinates {(305.2,46.970)};
\addplot[only marks, mark=tril, blu, fill=blu] coordinates {(309.6,46.960)};
\addplot[only marks, mark=trir, blu, fill=blu] coordinates {(356.05,46.711) (365.05,46.52) (373.1,46.511)};
% big numbers
\begin{scope}[every node/.style={font=\fontsize{14}{14}\selectfont, inner sep=0pt}]
\node at (axis cs:303.8,47.095) {1};
\node at (axis cs:357.7,46.764) {2};
\node at (axis cs:357.7,46.561) {3};
\node at (axis cs:372.7,46.372) {4};
\node at (axis cs:379.8,46.372) {5};
\end{scope}
% left level labels
\begin{scope}[every node/.style={font=\tf, text=coral, inner sep=0.4bp, anchor=south west, xshift=0.6bp}]
\node at (axis cs:-4.95,46.86) {46.86};
\node at (axis cs:-4.95,46.75) {46.75};
\node at (axis cs:-4.95,46.68) {46.68};
\node at (axis cs:-4.95,46.37) {46.37};
\node at (axis cs:-4.95,46.32) {46.32};
\end{scope}
\node[font=\tf, anchor=south west, inner sep=0.5bp, xshift=0.8bp] at (axis cs:-4.95,46.0024) {© 2017 NinjaTrader, LLC};
\node[font=\tf, anchor=south east, inner sep=0.5bp, fill=white, xshift=-8bp, yshift=3bp] at (axis cs:421.05,46.0024) {Time remaining = 00:00:43};
\end{axis}

% ---------------- price tags ----------------
\begin{axis}[geom, hide axis, clip=false]
\begin{scope}[every node/.style={font=\tagf, inner sep=0pt, anchor=east, xshift=2.2bp}]
\node[text=lsb] at (axis cs:421.05,47.14) {P};
\node[text=orng!60] at (axis cs:421.05,47.09) {C};
\node[text=limec!70] at (axis cs:421.05,47.08) {Y-H};
\node[text=lskb] at (axis cs:421.05,47.02) {C};
\node[text=lskb] at (axis cs:421.05,46.95) {R};
\node[text=orng!60] at (axis cs:421.05,46.94) {C};
\node[text=lskb] at (axis cs:421.05,46.84) {R1};
\node[text=gold] at (axis cs:421.05,46.79) {C};
\node[text=gold] at (axis cs:421.05,46.64) {C};
\node[text=hotpink!70] at (axis cs:421.05,46.60) {Y-V};
\node[text=gold] at (axis cs:421.05,46.49) {C};
\node[text=cornfl] at (axis cs:421.05,46.47) {PP};
\node[text=gold] at (axis cs:421.05,46.23) {Y-C};
\node[text=ored!60] at (axis cs:421.05,46.10) {Y-L};
\node[text=lsb] at (axis cs:421.05,46.02) {P};
\end{scope}
\begin{scope}[every node/.style={signal, signal to=west, signal pointer angle=100, draw=black!85, line width=0.3bp, inner xsep=0.7bp, inner ysep=0pt, minimum height=5.6bp, text height=4.1bp, text depth=0.2bp, font=\tagf, anchor=west, xshift=0.9bp}]
\node[fill=lsb] at (axis cs:421.05,47.14) {47.14};
\node[fill=limec] at (axis cs:421.05,47.08) {47.08};
\node[fill=orng] at (axis cs:421.05,47.09) {47.09};
\node[fill=lskb] at (axis cs:421.05,47.02) {47.02};
\node[fill=orng] at (axis cs:421.05,46.94) {46.94};
\node[fill=lskb] at (axis cs:421.05,46.95) {46.95};
\node[fill=lskb] at (axis cs:421.05,46.84) {46.84};
\node[fill=gold] at (axis cs:421.05,46.79) {46.79};
\node[fill=tagg] at (axis cs:421.05,46.76) {46.76};
\node[fill=black, text=white] at (axis cs:421.05,46.71) {46.71};
\node[fill=gold] at (axis cs:421.05,46.65) {46.65};
\node[fill=gold] at (axis cs:421.05,46.64) {46.64};
\node[fill=hotpink] at (axis cs:421.05,46.60) {46.60};
\node[fill=tagg] at (axis cs:421.05,46.54) {46.54};
\node[fill=gold] at (axis cs:421.05,46.49) {46.49};
\node[fill=cornfl] at (axis cs:421.05,46.47) {46.47};
\node[fill=gold] at (axis cs:421.05,46.23) {46.23};
\node[fill=ored] at (axis cs:421.05,46.10) {46.10};
\node[fill=lsb] at (axis cs:421.05,46.02) {46.02};
\end{scope}
\end{axis}

% title, icon, window border
\node[font=\fontsize{7.4}{8}\selectfont] at (437bp,520.3bp) {CL 09-17 (1 Min)\ \ 18/07/2017};
\draw[line width=0.5bp] (837.5bp,498.5bp) -- (837.5bp,508bp) -- (845bp,503.25bp) -- cycle;
\fill (846.6bp,498.5bp) rectangle (847.8bp,508bp);
\draw[line width=0.5bp] (0.5bp,0bp) -- (0.5bp,23bp);
\draw[line width=0.5bp] (0bp,0.3bp) -- (876bp,0.3bp);
\end{tikzpicture}
\end{document}
